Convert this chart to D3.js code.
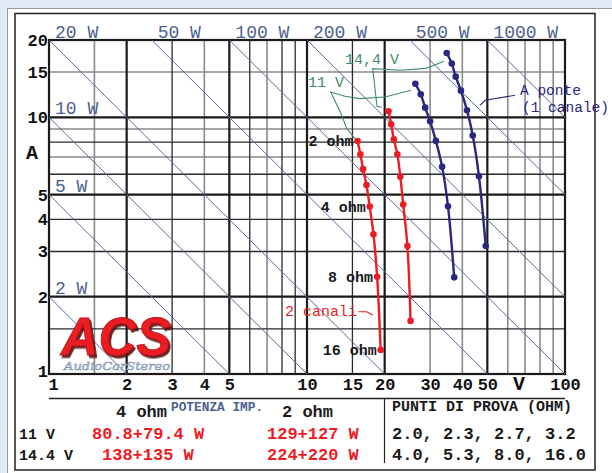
<!DOCTYPE html>
<html>
<head>
<meta charset="utf-8">
<script src="https://cdn.jsdelivr.net/npm/d3@7"></script>
<style>
  body { margin: 0; background: #e1ebf7; }
  svg { display: block; }
  text { font-family: "Liberation Mono", "Courier New", monospace; }
</style>
</head>
<body>
<div class="canvas"></div>
<script>
// test loads (ohm) shared by every curve
const loads = [2.0, 2.3, 2.7, 3.2, 4.0, 5.3, 8.0, 16.0]

// volts / amps, one pair per curve
const v11Stereo = [15.7, 16.1, 16.5, 17.0, 17.5, 18.1, 18.7, 19.3]
const a11Stereo = [8.08, 7.18, 6.28, 5.45, 4.49, 3.50, 2.39, 1.24]
const v144Stereo = [20.7, 21.2, 21.7, 22.4, 23.0, 23.6, 24.5, 25.2]
const a144Stereo = [10.55, 9.39, 8.21, 7.18, 5.86, 4.57, 3.15, 1.61]
const v11Bridge = [26.3, 27.6, 28.7, 30.0, 31.6, 33.4, 35.2, 37.2]
const a11Bridge = [13.5, 12.3, 10.9, 9.65, 8.09, 6.41, 4.50, 2.38]
const v144Bridge = [34.8, 36.4, 37.7, 39.5, 41.7, 43.9, 46.4, 49.3]
const a144Bridge = [17.8, 16.2, 14.4, 12.7, 10.65, 8.49, 5.89, 3.15]

const powerLevels = [2, 5, 10, 20, 50, 100, 200, 500, 1000]
const xTickLabels = [1, 2, 3, 4, 5, 10, 15, 20, 30, 40, 50, 100]
const yTickLabels = [1, 2, 3, 4, 5, 10, 15, 20]

const xMajor = [2, 5, 10, 20, 50]
const xDark = [3, 6, 8, 9, 15]
const xGray = [1.5, 4, 7, 30, 40, 60, 70, 80, 90]
const yMajor = [2, 5, 10]
const yDark = [1.5, 3, 4, 6, 8]
const yGray = [7, 9, 15]

const ohmLabels = [[0, '2 ohm'], [4, '4 ohm'], [6, '8 ohm'], [7, '16 ohm']]

// annotation leaders, in volts / amps
const lead144 = [[33.96, 16.52], [28.93, 15.51], [22.94, 15.24], [17.98, 15.47], [18.68, 11.03], [19.53, 10.94]]
const lead11 = [[25.3, 12.74], [20.06, 12.0], [16.05, 11.82], [14.04, 12.07], [12.36, 12.54], [13.63, 10.18], [14.25, 9.04], [15.35, 8.26]]
const leadBridge = [[46.8, 11.13], [49.0, 11.65], [64.0, 12.18]]
const leadStereo = [[15.81, 1.748], [17.03, 1.748], [17.98, 1.697]]

const RED = '#ec1c24'
const NAVY = '#29277f'
const SLATE = '#4c5f90'
const GREEN = '#3f8b70'

const svg = d3.select('.canvas').append('svg')
  .attr('width', 612).attr('height', 473)

const shadow = svg.append('defs').append('filter').attr('id', 'logoShadow')
  .attr('x', '-10%').attr('y', '-10%').attr('width', '130%').attr('height', '140%')
shadow.append('feDropShadow').attr('dx', 2).attr('dy', 2.5).attr('stdDeviation', 0.6)
  .attr('flood-color', '#5a0a0c').attr('flood-opacity', 0.9)

// frame
svg.append('rect').attr('width', 612).attr('height', 473).attr('fill', '#e1ebf7')
svg.append('rect').attr('x', 7.5).attr('y', 8.5).attr('width', 610).attr('height', 470)
  .attr('fill', '#fff').attr('stroke', '#9a9a9a')
svg.append('rect').attr('x', 15).attr('y', 13.5).attr('width', 580).attr('height', 456.5)
  .attr('fill', '#fff').attr('stroke', '#222').attr('stroke-width', 1.5)

const x = d3.scaleLog().domain([1, 100]).range([49, 565])
const y = d3.scaleLog().domain([1, 20]).range([374, 40])

const graph = svg.append('g')

function vlines(vals, color, width) {
  graph.selectAll(null).data(vals).enter().append('line')
    .attr('x1', d => x(d)).attr('x2', d => x(d))
    .attr('y1', y(20)).attr('y2', y(1))
    .attr('stroke', color).attr('stroke-width', width)
}
function hlines(vals, color, width) {
  graph.selectAll(null).data(vals).enter().append('line')
    .attr('y1', d => y(d)).attr('y2', d => y(d))
    .attr('x1', x(1)).attr('x2', x(100))
    .attr('stroke', color).attr('stroke-width', width)
}
vlines(xGray, '#8a8a8a', 1.6)
hlines(yGray, '#8a8a8a', 1.6)
vlines(xDark, '#2a2a2a', 1.3)
hlines(yDark, '#2a2a2a', 1.3)
vlines(xMajor, '#1a1a1a', 2.2)
hlines(yMajor, '#1a1a1a', 2.2)
graph.append('rect')
  .attr('x', x(1)).attr('y', y(20))
  .attr('width', x(100) - x(1)).attr('height', y(1) - y(20))
  .attr('fill', 'none').attr('stroke', '#1a1a1a').attr('stroke-width', 2.2)

// constant power lines W = V * A
graph.selectAll('.pw').data(powerLevels).enter().append('line')
  .attr('class', 'pw')
  .attr('x1', w => x(Math.max(1, w / 20))).attr('y1', w => y(w / Math.max(1, w / 20)))
  .attr('x2', w => x(Math.min(100, w))).attr('y2', w => y(w / Math.min(100, w)))
  .attr('stroke', '#5a6c9c').attr('stroke-width', 1)

graph.selectAll('.pwl').data(powerLevels).enter().append('text')
  .attr('class', 'pwl')
  .attr('x', w => w >= 20 ? x(w / 20) + 6 : x(1) + 6)
  .attr('y', w => w >= 20 ? 38 : y(w) - 3)
  .attr('fill', SLATE).attr('font-size', 18)
  .text(w => `${w} W`)

// axes
const xAxis = graph.append('g').attr('transform', `translate(0,${y(1)})`)
  .call(d3.axisBottom(x).tickValues(xTickLabels).tickSize(0).tickPadding(4)
    .tickFormat(d3.format('d')))
xAxis.select('.domain').remove()
xAxis.selectAll('text')
  .attr('font-family', '"Liberation Mono", monospace').attr('font-size', 17)
  .attr('font-weight', 'bold').attr('fill', '#111')
  .attr('dx', d => d === 1 ? 4 : 0)

const yAxis = graph.append('g').attr('transform', `translate(${x(1)},0)`)
  .call(d3.axisLeft(y).tickValues(yTickLabels).tickSize(0).tickPadding(1)
    .tickFormat(d3.format('d')))
yAxis.select('.domain').remove()
yAxis.selectAll('text')
  .attr('font-family', '"Liberation Mono", monospace').attr('font-size', 17)
  .attr('font-weight', 'bold').attr('fill', '#111')
  .attr('dy', d => d === 1 ? '0.15em' : '0.32em')

svg.append('text').attr('x', 26).attr('y', 159).attr('font-size', 20)
  .attr('font-weight', 'bold').attr('fill', '#111').text('A')
svg.append('text').attr('x', 513).attr('y', 390).attr('font-size', 20)
  .attr('font-weight', 'bold').attr('fill', '#111').text('V')

// logo
const logo = svg.append('g')
logo.append('text').attr('x', 61).attr('y', 355)
  .style('font-family', '"Liberation Sans", Arial, sans-serif')
  .attr('font-size', 53).attr('font-weight', 'bold').attr('font-style', 'italic')
  .attr('textLength', 110).attr('lengthAdjust', 'spacingAndGlyphs')
  .attr('fill', RED).attr('stroke', '#b5141a').attr('stroke-width', 0.8)
  .attr('filter', 'url(#logoShadow)').text('ACS')
logo.append('text').attr('x', 64).attr('y', 370)
  .style('font-family', '"DejaVu Serif", serif')
  .attr('font-size', 11).attr('font-style', 'italic')
  .attr('textLength', 106).attr('lengthAdjust', 'spacingAndGlyphs')
  .attr('fill', '#c4d2e4').attr('stroke', '#7d91ae').attr('stroke-width', 0.5)
  .text('AudioCarStereo')

// curves
const curves = [
  {v: v11Stereo, a: a11Stereo, color: RED},
  {v: v144Stereo, a: a144Stereo, color: RED},
  {v: v11Bridge, a: a11Bridge, color: NAVY},
  {v: v144Bridge, a: a144Bridge, color: NAVY}
]
const line = d3.line().x(p => x(p[0])).y(p => y(p[1])).curve(d3.curveCatmullRom)
curves.forEach(c => {
  const pts = loads.map((r, i) => [c.v[i], c.a[i]])
  graph.append('path').attr('d', line(pts))
    .attr('fill', 'none').attr('stroke', c.color).attr('stroke-width', 2.4)
  graph.selectAll(null).data(pts).enter().append('circle')
    .attr('cx', p => x(p[0])).attr('cy', p => y(p[1])).attr('r', 3.3)
    .attr('fill', c.color)
})

// ohm labels next to the 11 V stereo points
graph.selectAll('.ohm').data(ohmLabels).enter().append('text')
  .attr('class', 'ohm')
  .attr('x', d => x(v11Stereo[d[0]]) - 4)
  .attr('y', d => y(a11Stereo[d[0]]) + 5)
  .attr('text-anchor', 'end').attr('font-size', 15).attr('font-weight', 'bold')
  .attr('fill', '#1a1a1a').text(d => d[1])

// leaders
const lead = d3.line().x(p => x(p[0])).y(p => y(p[1]))
graph.append('path').attr('d', lead(lead144)).attr('fill', 'none').attr('stroke', GREEN).attr('stroke-width', 1.1)
graph.append('path').attr('d', lead(lead11)).attr('fill', 'none').attr('stroke', GREEN).attr('stroke-width', 1.1)
graph.append('path').attr('d', lead(leadBridge)).attr('fill', 'none').attr('stroke', NAVY).attr('stroke-width', 1.1)
graph.append('path').attr('d', lead(leadStereo)).attr('fill', 'none').attr('stroke', RED).attr('stroke-width', 1.1)

svg.append('text').attr('x', 345).attr('y', 64).attr('font-size', 15).attr('fill', GREEN).text('14,4 V')
svg.append('text').attr('x', 308).attr('y', 87).attr('font-size', 15).attr('fill', GREEN).text('11 V')
svg.append('text').attr('x', 520).attr('y', 95).attr('font-size', 14.5).attr('fill', NAVY).text('A ponte')
svg.append('text').attr('x', 522).attr('y', 112).attr('font-size', 14.5).attr('fill', NAVY).text('(1 canale)')
svg.append('text').attr('x', 357).attr('y', 316).attr('text-anchor', 'end')
  .attr('font-size', 15).attr('fill', RED).text('2 canali')

// table below the chart
const tbl = svg.append('g')
tbl.append('line').attr('x1', x(1)).attr('x2', x(100)).attr('y1', 398.5).attr('y2', 398.5)
  .attr('stroke', '#222').attr('stroke-width', 1.5)
tbl.append('line').attr('x1', 384.5).attr('x2', 384.5).attr('y1', 399).attr('y2', 463)
  .attr('stroke', '#222').attr('stroke-width', 1.2)

const rows = ['11 V', '14.4 V']
const watts4 = ['80.8+79.4 W', '138+135 W']
const watts2 = ['129+127 W', '224+220 W']
const testPoints = ['2.0, 2.3, 2.7, 3.2', '4.0, 5.3, 8.0, 16.0']
const rowY = [439, 460]

tbl.append('text').attr('x', 116).attr('y', 417).attr('font-size', 17).attr('font-weight', 'bold').attr('fill', '#1a1a1a').text('4 ohm')
tbl.append('text').attr('x', 171).attr('y', 411).attr('font-size', 12.8).attr('font-weight', 'bold').attr('fill', SLATE).text('POTENZA IMP.')
tbl.append('text').attr('x', 282).attr('y', 417).attr('font-size', 17).attr('font-weight', 'bold').attr('fill', '#1a1a1a').text('2 ohm')
tbl.append('text').attr('x', 392).attr('y', 411).attr('font-size', 15).attr('font-weight', 'bold').attr('fill', '#1a1a1a').text('PUNTI DI PROVA (OHM)')

rows.forEach((r, i) => {
  tbl.append('text').attr('x', 19).attr('y', rowY[i]).attr('font-size', 15).attr('font-weight', 'bold').attr('fill', '#1a1a1a').text(r)
  tbl.append('text').attr('x', i === 0 ? 92 : 102).attr('y', rowY[i]).attr('font-size', 17).attr('font-weight', 'bold').attr('fill', RED).text(watts4[i])
  tbl.append('text').attr('x', 267).attr('y', rowY[i]).attr('font-size', 17).attr('font-weight', 'bold').attr('fill', RED).text(watts2[i])
  tbl.append('text').attr('x', 392).attr('y', rowY[i]).attr('font-size', 17).attr('font-weight', 'bold').attr('fill', '#1a1a1a').text(testPoints[i])
})
</script>
</body>
</html>
